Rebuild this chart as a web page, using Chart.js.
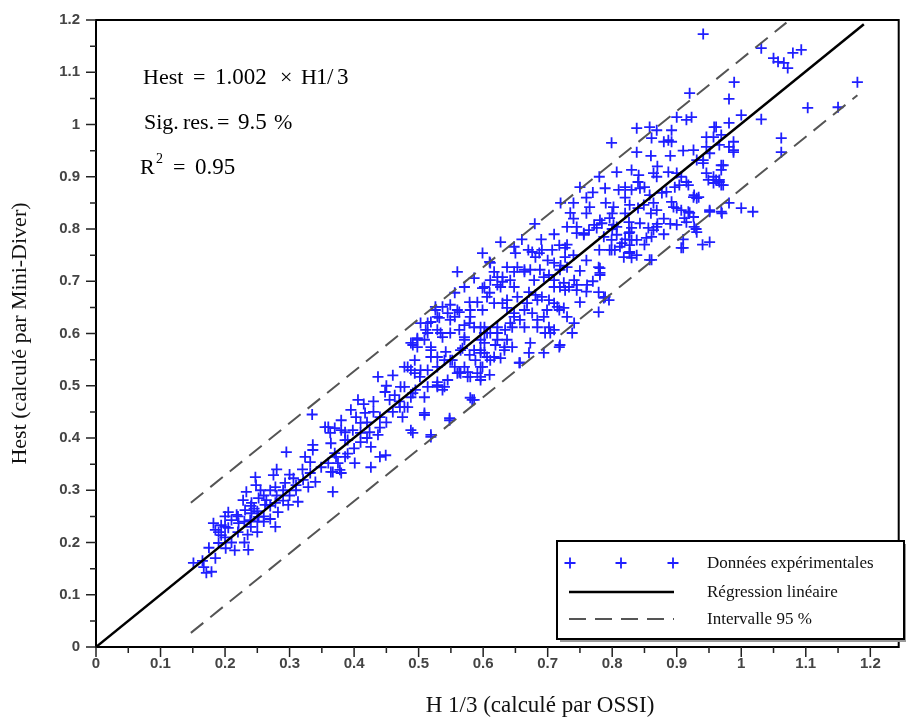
<!DOCTYPE html>
<html lang="fr">
<head>
<meta charset="UTF-8">
<title>Hest vs H1/3</title>
<script src="https://cdn.jsdelivr.net/npm/chart.js"></script>
<style>
    html, body { margin: 0; padding: 0; background: #fff; }
    #wrap { width: 906px; height: 724px; position: relative; }
</style>
</head>
<body>
<div id="wrap"><canvas id="chart"></canvas></div>
<script>
// tick labels (both axes)
const xTickValues = [0, 0.1, 0.2, 0.3, 0.4, 0.5, 0.6, 0.7, 0.8, 0.9, 1, 1.1, 1.2];
const yTickValues = [0, 0.1, 0.2, 0.3, 0.4, 0.5, 0.6, 0.7, 0.8, 0.9, 1, 1.1, 1.2];

const measured = [
    [0.151,0.161],[0.167,0.153],[0.179,0.144],[0.171,0.142],[0.185,0.224],[0.194,0.214],[0.19,0.199],[0.201,0.189],
    [0.236,0.186],[0.182,0.237],[0.194,0.233],[0.205,0.228],[0.21,0.243],[0.221,0.237],[0.205,0.258],[0.218,0.253],
    [0.231,0.262],[0.241,0.256],[0.239,0.243],[0.252,0.249],[0.228,0.281],[0.241,0.276],[0.252,0.285],[0.262,0.272],
    [0.247,0.325],[0.248,0.31],[0.233,0.297],[0.275,0.329],[0.278,0.306],[0.264,0.281],[0.278,0.276],[0.282,0.258],
    [0.278,0.23],[0.293,0.314],[0.306,0.323],[0.31,0.3],[0.298,0.272],[0.313,0.278],[0.321,0.32],[0.332,0.333],
    [0.34,0.316],[0.329,0.306],[0.295,0.373],[0.324,0.364],[0.332,0.354],[0.336,0.377],[0.336,0.387],[0.349,0.344],
    [0.364,0.335],[0.378,0.339],[0.367,0.297],[0.355,0.421],[0.363,0.41],[0.38,0.415],[0.386,0.396],[0.37,0.371],
    [0.36,0.352],[0.375,0.352],
    [0.2,0.21],[0.21,0.2],[0.22,0.22],[0.23,0.24],[0.24,0.23],[0.25,0.26],[0.26,0.25],[0.24,0.27],[0.22,0.25],
    [0.2,0.23],[0.19,0.22],[0.25,0.24],[0.27,0.27],[0.26,0.29],[0.23,0.2],[0.215,0.185],[0.25,0.22],[0.26,0.24],
    [0.28,0.29],[0.29,0.28],[0.3,0.29],[0.27,0.3],[0.3,0.33],[0.31,0.31],[0.185,0.17],[0.175,0.19],[0.165,0.165],
    [0.2,0.25],[0.245,0.265],[0.255,0.3],[0.235,0.215],[0.27,0.245],[0.29,0.3],[0.32,0.34],[0.335,0.445],[0.28,0.34],
    [0.437,0.517],[0.406,0.473],[0.395,0.454],[0.403,0.44],[0.417,0.448],[0.41,0.429],[0.38,0.434],[0.37,0.419],
    [0.386,0.411],[0.398,0.415],[0.424,0.411],[0.437,0.406],[0.39,0.396],[0.41,0.392],[0.426,0.383],[0.449,0.367],
    [0.44,0.364],[0.36,0.421],[0.364,0.39],[0.372,0.364],[0.386,0.364],[0.401,0.352],[0.426,0.344],[0.367,0.335],
    [0.38,0.333],[0.448,0.488],[0.455,0.473],[0.463,0.482],[0.471,0.459],[0.475,0.44],[0.488,0.478],[0.495,0.492],
    [0.509,0.448],[0.491,0.41],[0.519,0.402],[0.548,0.438],[0.58,0.477],[0.586,0.473],[0.483,0.536],[0.494,0.549],
    [0.503,0.53],[0.514,0.498],[0.529,0.501],[0.537,0.492],[0.488,0.582],[0.498,0.591],[0.514,0.601],[0.519,0.574],
    [0.514,0.62],[0.529,0.632],[0.537,0.651],[0.549,0.626],[0.56,0.645],[0.571,0.616],[0.58,0.632],[0.54,0.549],
    [0.556,0.536],[0.565,0.524],[0.576,0.526],[0.596,0.536],[0.586,0.568],[0.602,0.582],[0.617,0.555],[0.596,0.511],
    [0.61,0.521],
    [0.42,0.43],[0.43,0.45],[0.44,0.44],[0.45,0.43],[0.46,0.45],[0.47,0.47],[0.45,0.5],[0.46,0.52],[0.43,0.47],
    [0.41,0.41],[0.42,0.4],[0.4,0.38],[0.39,0.37],[0.415,0.465],[0.44,0.42],
    [0.617,0.718],[0.63,0.708],[0.611,0.702],[0.622,0.693],[0.586,0.706],[0.599,0.687],[0.606,0.67],[0.591,0.66],
    [0.579,0.66],[0.58,0.645],[0.549,0.655],[0.563,0.641],[0.545,0.639],[0.556,0.632],[0.526,0.645],[0.532,0.63],
    [0.519,0.622],[0.503,0.62],[0.511,0.607],[0.491,0.578],[0.498,0.588],[0.529,0.607],[0.537,0.593],[0.549,0.601],
    [0.563,0.607],[0.571,0.593],[0.579,0.62],[0.596,0.612],[0.606,0.601],[0.622,0.612],[0.634,0.607],[0.642,0.62],
    [0.519,0.568],[0.529,0.555],[0.542,0.565],[0.552,0.549],[0.568,0.572],[0.579,0.559],[0.588,0.549],[0.602,0.563],
    [0.619,0.578],[0.633,0.568],[0.645,0.574],[0.488,0.53],[0.502,0.517],[0.514,0.53],[0.478,0.498],[0.491,0.486],
    [0.529,0.507],[0.54,0.498],[0.509,0.478],[0.478,0.459],[0.509,0.444],[0.583,0.473],[0.548,0.434],[0.563,0.526],
    [0.576,0.517],[0.591,0.524],
    [0.488,0.415],[0.519,0.406],[0.656,0.544],[0.719,0.578],[0.789,0.67],[0.796,0.76],[0.827,0.769],[0.838,0.75],
    [0.858,0.741],[0.907,0.764],[0.765,0.842],[0.802,0.842],[0.849,0.846],[0.895,0.842],[0.92,0.831],[0.745,0.804],
    [0.756,0.792],[0.776,0.802],[0.787,0.785],[0.807,0.804],[0.827,0.794],[0.838,0.779],[0.864,0.798],[0.735,0.831],
    [0.526,0.651],[0.534,0.601],[0.509,0.588],[0.498,0.574],[0.478,0.536],[0.494,0.524],[0.519,0.555],[0.529,0.536],
    [0.549,0.549],[0.565,0.568],[0.571,0.588],[0.586,0.612],[0.602,0.601],[0.596,0.568],[0.611,0.549],[0.571,0.536],
    [0.56,0.524],[0.58,0.517],[0.545,0.511],[0.529,0.498],[0.472,0.498],[0.483,0.459],
    [0.637,0.727],[0.648,0.718],[0.664,0.722],[0.679,0.702],[0.694,0.708],[0.71,0.689],[0.725,0.697],[0.745,0.683],
    [0.627,0.689],[0.637,0.664],[0.653,0.67],[0.668,0.658],[0.684,0.664],[0.699,0.645],[0.715,0.651],[0.73,0.632],
    [0.648,0.632],[0.664,0.612],[0.684,0.612],[0.704,0.601],[0.622,0.601],[0.637,0.588],[0.673,0.582],[0.694,0.563],
    [0.61,0.737],[0.56,0.718],[0.571,0.689],[0.556,0.678],
    [0.627,0.775],[0.599,0.754],[0.611,0.735],[0.648,0.766],[0.65,0.754],[0.676,0.756],[0.681,0.746],[0.687,0.754],
    [0.691,0.76],[0.707,0.76],[0.718,0.769],[0.727,0.764],[0.727,0.746],[0.73,0.804],[0.745,0.792],[0.756,0.789],
    [0.764,0.798],[0.772,0.808],[0.784,0.811],[0.802,0.808],[0.807,0.789],[0.815,0.773],[0.826,0.792],[0.83,0.779],
    [0.827,0.756],[0.818,0.746],[0.799,0.76],[0.779,0.727],[0.781,0.716],[0.779,0.679],[0.787,0.668],[0.795,0.664],
    [0.779,0.641],[0.761,0.693],[0.741,0.702],[0.745,0.693],[0.733,0.689],[0.71,0.735],[0.719,0.722],[0.73,0.727],
    [0.702,0.712],[0.71,0.702],[0.719,0.689],[0.727,0.683],[0.653,0.727],[0.664,0.718],[0.673,0.722],[0.688,0.722],
    [0.622,0.708],[0.63,0.699],[0.642,0.702],[0.648,0.689],[0.671,0.679],[0.681,0.674],[0.691,0.67],[0.702,0.664],
    [0.71,0.658],[0.718,0.645],[0.725,0.649],[0.602,0.689],[0.61,0.678],[0.617,0.658],[0.599,0.645],[0.63,0.658],
    [0.637,0.649],[0.648,0.639],[0.657,0.626],[0.645,0.612],[0.664,0.645],[0.676,0.639],[0.684,0.626],[0.694,0.632],
    [0.702,0.612],[0.71,0.607],[0.696,0.601],[0.738,0.601],[0.741,0.62],[0.718,0.574],[0.602,0.612],[0.611,0.601],
    [0.596,0.588],[0.622,0.588],[0.633,0.574],[0.596,0.563],[0.606,0.555],[0.627,0.553],[0.671,0.563],[0.657,0.544],
    [0.599,0.536],[0.596,0.517],
    [0.74,0.75],[0.75,0.72],[0.76,0.74],[0.77,0.7],[0.78,0.76],[0.76,0.68],[0.75,0.66],[0.73,0.77],[0.72,0.73],
    [0.7,0.74],[0.69,0.78],[0.71,0.79],[0.68,0.81],[0.66,0.78],[0.67,0.76],
    [0.799,0.965],[0.838,0.947],[0.926,0.951],[0.946,0.957],[0.951,0.945],[0.966,0.961],[0.988,0.947],[0.931,0.932],
    [0.941,0.926],[0.972,0.922],[0.969,0.913],[0.807,0.909],[0.83,0.913],[0.841,0.903],[0.864,0.907],[0.869,0.9],
    [0.887,0.909],[0.9,0.907],[0.907,0.9],[0.915,0.89],[0.949,0.894],[0.957,0.888],[0.966,0.89],[0.969,0.884],
    [0.789,0.878],[0.81,0.875],[0.82,0.88],[0.83,0.875],[0.843,0.878],[0.858,0.865],[0.877,0.869],[0.884,0.871],
    [0.897,0.88],[0.904,0.884],[0.918,0.884],[0.926,0.861],[0.931,0.859],[0.927,0.865],[0.827,0.846],[0.864,0.85],
    [0.869,0.836],[0.892,0.852],[0.9,0.84],[0.907,0.836],[0.918,0.833],[0.926,0.823],[0.951,0.836],[0.969,0.833],
    [0.981,0.85],[1.0,0.84],[1.018,0.833],[0.781,0.817],[0.796,0.821],[0.826,0.813],[0.83,0.802],[0.843,0.811],
    [0.856,0.802],[0.869,0.804],[0.861,0.785],[0.853,0.783],[0.9,0.808],[0.915,0.813],[0.927,0.804],[0.931,0.794],
    [0.912,0.821],[0.799,0.779],[0.812,0.766],[0.804,0.76],[0.827,0.754],[0.83,0.745],[0.91,0.764],[0.951,0.775],
    [0.861,0.741],[0.781,0.725],[0.781,0.712],
    [0.838,0.993],[0.858,0.995],[0.869,0.989],[0.892,0.989],[0.887,0.97],[0.88,0.967],[0.892,0.967],[0.92,1.06],
    [0.923,1.014],[0.915,1.009],[0.9,1.014],[0.861,0.974],[0.958,0.995],[0.988,0.967],[0.946,0.907],[0.961,0.894],
    [0.941,1.173],[1.031,1.146],[1.05,1.127],[1.057,1.12],[1.066,1.118],[1.072,1.108],[1.08,1.137],[1.093,1.143],
    [0.989,1.081],[0.981,1.049],[1.0,1.018],[1.031,1.01],[1.18,1.081],[1.103,1.032],[1.15,1.033],[1.062,0.974],
    [1.062,0.947],[0.961,0.995],[0.981,1.003],[0.946,0.976],[0.957,0.976],[0.969,0.98],[0.981,0.957],[0.988,0.951],
    [0.941,0.932],[0.969,0.922],[0.957,0.9],[0.966,0.894],[0.972,0.884],[0.951,0.833],[0.934,0.861],
    [0.75,0.88],[0.76,0.86],[0.77,0.87],[0.74,0.85],[0.76,0.83],[0.74,0.82],[0.72,0.85],[0.78,0.9],[0.79,0.85],
    [0.8,0.83],[0.82,0.83],[0.84,0.84],[0.86,0.83],[0.88,0.82],[0.85,0.88],[0.87,0.92],[0.89,0.94],[0.91,0.95],
    [0.86,0.94],[0.84,0.89],[0.82,0.86],[0.8,0.8],[0.82,0.78],[0.85,0.77],[0.88,0.79],[0.87,0.81],[0.89,0.81],
    [0.91,0.78],[0.93,0.8],[0.94,0.77],[0.97,0.83]
];

// regression line and 95 % band, end points
const fitX = [0, 1.19];
const fitY = [0, 1.192];
const upperX = [0.147, 1.07];
const upperY = [0.276, 1.195];
const lowerX = [0.147, 1.18];
const lowerY = [0.027, 1.056];

// equation block: [text, x offset from plot left, baseline y, font size]
const annotations = [
    ['Hest', 47, 84, 22], ['=', 97, 84, 22], ['1.002', 119, 84, 23], ['\u00d7', 184, 84, 22],
    ['H', 205, 84, 22], ['1', 220, 84, 23], ['/', 231, 84, 23], ['3', 241, 84, 23],
    ['Sig.', 48, 129, 22], ['res.', 87, 129, 22], ['=', 121, 129, 22], ['9.5', 142, 129, 23], ['%', 178, 129, 22],
    ['R', 44, 174, 22], ['2', 60, 163, 14], ['=', 77, 174, 22], ['0.95', 99, 174, 23]
];
const xTitle = 'H 1/3 (calculé par OSSI)';

const BLUE = '#1f1fff';
const DASH = [16, 9];
const SERIF = '"Liberation Serif", "Times New Roman", serif';

function toXY(xs, ys) { return xs.map((x, i) => ({ x: x, y: ys[i] })); }

// frame, tick marks, equation text, x title and legend box
const decor = {
    id: 'decor',
    afterDraw(chart) {
        const ctx = chart.ctx;
        const a = chart.chartArea;
        const sx = chart.scales.x, sy = chart.scales.y;
        ctx.save();
        ctx.strokeStyle = '#000';
        ctx.lineWidth = 2;
        ctx.strokeRect(a.left, a.top, a.right - a.left, a.bottom - a.top);

        // tick marks pointing outwards, minor ones half way
        ctx.lineWidth = 1.5;
        ctx.strokeStyle = '#222';
        ctx.beginPath();
        xTickValues.forEach((v, i) => {
            const p = sx.getPixelForValue(v);
            ctx.moveTo(p, a.bottom); ctx.lineTo(p, a.bottom + 10);
            if (i < xTickValues.length - 1) {
                const m = sx.getPixelForValue((v + xTickValues[i + 1]) / 2);
                ctx.moveTo(m, a.bottom); ctx.lineTo(m, a.bottom + 6);
            }
        });
        yTickValues.forEach((v, i) => {
            const p = sy.getPixelForValue(v);
            ctx.moveTo(a.left, p); ctx.lineTo(a.left - 10, p);
            if (i < yTickValues.length - 1) {
                const m = sy.getPixelForValue((v + yTickValues[i + 1]) / 2);
                ctx.moveTo(a.left, m); ctx.lineTo(a.left - 6, m);
            }
        });
        ctx.stroke();

        // equation block
        ctx.fillStyle = '#000';
        ctx.textBaseline = 'alphabetic';
        annotations.forEach(t => {
            ctx.font = t[3] + 'px ' + SERIF;
            ctx.fillText(t[0], a.left + t[1], t[2]);
        });

        // x axis title (sits right of centre in the original)
        ctx.font = '23px ' + SERIF;
        ctx.fillStyle = '#111';
        ctx.textAlign = 'center';
        ctx.textBaseline = 'middle';
        ctx.fillText(xTitle, 540, 706);
        ctx.textAlign = 'left';

        // legend box
        const lx = 557, ly = 541, lw = 347, lh = 98;
        ctx.fillStyle = '#999';
        ctx.fillRect(lx + 3, ly + 3, lw, lh);
        ctx.fillStyle = '#fff';
        ctx.fillRect(lx, ly, lw, lh);
        ctx.lineWidth = 2;
        ctx.strokeStyle = '#000';
        ctx.strokeRect(lx, ly, lw, lh);

        const ds = chart.data.datasets;
        const rows = [563, 592, 619];
        ctx.strokeStyle = BLUE;
        ctx.lineWidth = 1.8;
        [570, 621, 673].forEach(cx => {
            ctx.beginPath();
            ctx.moveTo(cx - 5.5, rows[0]); ctx.lineTo(cx + 5.5, rows[0]);
            ctx.moveTo(cx, rows[0] - 5.5); ctx.lineTo(cx, rows[0] + 5.5);
            ctx.stroke();
        });
        ctx.strokeStyle = '#000';
        ctx.lineWidth = 2.5;
        ctx.beginPath(); ctx.moveTo(569, rows[1]); ctx.lineTo(674, rows[1]); ctx.stroke();
        ctx.strokeStyle = '#555';
        ctx.lineWidth = 2;
        ctx.setLineDash([17, 9]);
        ctx.beginPath(); ctx.moveTo(569, rows[2]); ctx.lineTo(674, rows[2]); ctx.stroke();
        ctx.setLineDash([]);

        ctx.fillStyle = '#111';
        ctx.font = '17px ' + SERIF;
        ctx.textBaseline = 'middle';
        ctx.fillText(ds[0].label, 707, rows[0] + 1);
        ctx.fillText(ds[1].label, 707, rows[1] + 1);
        ctx.fillText(ds[2].label, 707, rows[2] + 1);
        ctx.restore();
    }
};

const tickFont = { family: '"Liberation Sans", Arial, sans-serif', size: 15, weight: 'bold' };

new Chart(document.getElementById('chart'), {
    type: 'scatter',
    data: {
        datasets: [
            {
                label: 'Données expérimentales',
                data: measured.map(p => ({ x: p[0], y: p[1] })),
                pointStyle: 'cross',
                pointRadius: 5.5,
                borderColor: BLUE,
                borderWidth: 1.8,
                backgroundColor: BLUE,
                order: 2
            },
            {
                label: 'Régression linéaire',
                type: 'line',
                data: toXY(fitX, fitY),
                borderColor: '#000',
                borderWidth: 2.5,
                pointRadius: 0,
                order: 0
            },
            {
                label: 'Intervalle 95 %',
                type: 'line',
                data: toXY(upperX, upperY),
                borderColor: '#555',
                borderWidth: 2,
                borderDash: DASH,
                pointRadius: 0,
                order: 1
            },
            {
                label: 'Intervalle 95 % (bas)',
                type: 'line',
                data: toXY(lowerX, lowerY),
                borderColor: '#555',
                borderWidth: 2,
                borderDash: DASH,
                pointRadius: 0,
                order: 1
            }
        ]
    },
    options: {
        responsive: true,
        maintainAspectRatio: false,
        animation: false,
        layout: { padding: { top: 20, right: 3, left: 0, bottom: 0 } },
        plugins: { legend: { display: false }, tooltip: { enabled: false } },
        scales: {
            x: {
                type: 'linear',
                min: 0,
                max: 1.244,
                afterBuildTicks: s => { s.ticks = xTickValues.map(v => ({ value: v })); },
                afterFit: s => { s.height = 77; s.paddingLeft = 0; s.paddingRight = 0; },
                grid: { display: false, drawTicks: false },
                border: { display: false },
                ticks: {
                    autoSkip: false, maxRotation: 0, padding: 8,
                    color: '#444', font: tickFont,
                    callback: v => String(Math.round(v * 10) / 10)
                }
            },
            y: {
                type: 'linear',
                min: 0,
                max: 1.2,
                afterBuildTicks: s => { s.ticks = yTickValues.map(v => ({ value: v })); },
                afterFit: s => { s.width = 96; s.paddingTop = 0; s.paddingBottom = 0; },
                grid: { display: false, drawTicks: false },
                border: { display: false },
                ticks: {
                    autoSkip: false, padding: 16,
                    color: '#444', font: tickFont,
                    callback: v => String(Math.round(v * 10) / 10)
                },
                title: {
                    display: true, text: 'Hest (calculé par Mini-Diver)',
                    color: '#111', font: { family: SERIF, size: 22 }, padding: { top: 7, bottom: 0 }
                }
            }
        }
    },
    plugins: [decor]
});
</script>
</body>
</html>
